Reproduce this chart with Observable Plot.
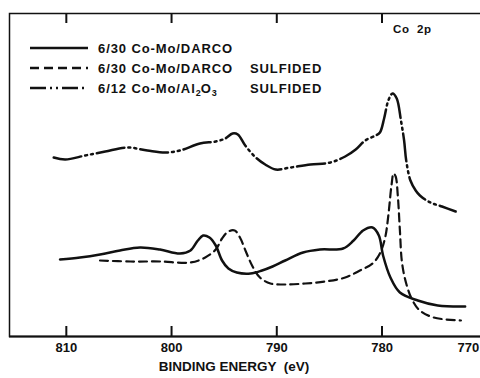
<!DOCTYPE html>
<html><head><meta charset="utf-8">
<script src="https://cdn.jsdelivr.net/npm/d3@7"></script>
<script src="https://cdn.jsdelivr.net/npm/@observablehq/plot@0.6"></script>
<style>
html,body{margin:0;padding:0;overflow:hidden;background:#fff;}
#wrap{position:relative;width:480px;height:378px;overflow:hidden;}
#chart svg{overflow:hidden;max-width:none !important;}
.lg{position:absolute;left:30px;top:38px;font:bold 13px "Liberation Sans",Arial,sans-serif;letter-spacing:0.9px;color:#111;}
.row{height:20px;display:flex;align-items:center;white-space:pre;}
.row svg{margin-right:10px;flex:none;}
.a{display:inline-block;width:152px;}
.sb{position:relative;top:3px;font-size:9px;letter-spacing:0;}
.co{position:absolute;left:393px;top:23px;font:bold 11.5px "Liberation Sans",Arial,sans-serif;letter-spacing:0.6px;white-space:pre;color:#111;}
</style></head>
<body><div id="wrap"><div id="chart"></div>
<div class="lg">
<div class="row"><svg width="58" height="6"><line x1="0" y1="3" x2="58" y2="3" stroke="#111" stroke-width="2.5"/></svg><span class="a">6/30 Co-Mo/DARCO</span></div>
<div class="row"><svg width="58" height="6"><line x1="0" y1="3" x2="58" y2="3" stroke="#111" stroke-width="2.5" stroke-dasharray="9,5"/></svg><span class="a">6/30 Co-Mo/DARCO</span>SULFIDED</div>
<div class="row"><svg width="58" height="6"><line x1="0" y1="3" x2="58" y2="3" stroke="#111" stroke-width="2.5" stroke-dasharray="16,4,2,4,2,4"/></svg><span class="a">6/12 Co-Mo/Al<span class="sb">2</span>O<span class="sb">3</span></span>SULFIDED</div>
</div>
<div class="co">Co  2p</div>
</div>
<script>
// Binding energy (eV) and intensity (arbitrary units)
const solidEnergy = [810.6,808.7,806.8,804.9,803.0,801.1,799.2,798.2,797.5,797.0,796.4,795.8,795.2,794.6,793.8,792.5,791.4,790.4,789.2,787.5,785.9,783.7,782.7,781.8,780.9,780.3,779.9,779.2,778.3,776.6,774.7,772.1];
const solidIntensity = [77,79,82,86,89,87,83,86,96,101,99,91,76,68,64,63,66,70,76,84,87,88,96,106,109,101,81,59,44,36,31,30];

const sulfEnergy = [806.8,803.9,801.1,798.2,796.8,795.8,795.2,794.6,794.0,793.5,792.9,792.3,791.6,790.6,789.2,787.3,785.4,783.5,782.1,780.9,780.2,779.7,779.4,779.1,778.9,778.7,778.5,778.3,778.1,777.7,777.1,776.4,775.1,772.5];
const sulfIntensity = [76,75,75,74,79,87,98,105,106,99,84,70,59,53,52,53,55,59,66,73,83,99,121,151,163,160,141,106,74,53,36,26,19,16];

const alEnergy = [811.2,810.1,808.2,806.3,804.2,802.3,800.6,799.2,797.3,795.8,794.9,794.2,793.7,793.0,792.0,791.1,790.1,788.7,786.8,784.9,783.5,782.5,781.6,780.6,780.2,779.8,779.4,779.0,778.6,778.2,777.9,777.7,777.3,776.8,776.4,775.4,774.3,773.0];
const alIntensity = [179,177,181,185,189,186,184,186,193,195,198,203,202,191,179,172,167,169,172,174,180,187,196,201,204,218,236,243,238,216,196,176,156,146,141,134,130,125];

const tickValues = [810, 800, 790, 780, 770];
const xLabel = "BINDING ENERGY  (eV)";

const toRows = (e, v) => e.map((d, i) => ({e: d, v: v[i]}));
const solid = toRows(solidEnergy, solidIntensity);
const sulf = toRows(sulfEnergy, sulfIntensity);
const al = toRows(alEnergy, alIntensity);

const font = '"Liberation Sans", Arial, sans-serif';
const plot = Plot.plot({
  width: 500, height: 378,
  marginLeft: 9, marginRight: 8, marginTop: 13, marginBottom: 42,
  style: {fontFamily: font, fontWeight: "bold", fontSize: "13px", color: "#111", background: "white", overflow: "hidden", maxWidth: "none"},
  x: {domain: [815.4, 769.5]},
  y: {domain: [0, 323], axis: null},
  marks: [
    Plot.frame({stroke: "#111", strokeWidth: 1.5}),
    Plot.ruleY([0], {stroke: "#111", strokeWidth: 2.2}),
    // inward tick marks (bottom and top), drawn with the y scale
    Plot.ruleX(tickValues, {x: d => d, y1: 0, y2: 10, stroke: "#111", strokeWidth: 2}),
    Plot.ruleX(tickValues, {x: d => d, y1: 313, y2: 323, stroke: "#111", strokeWidth: 2}),
    // tick labels
    Plot.axisX({anchor: "bottom", ticks: tickValues.slice(0, 4), tickSize: 0, tickPadding: 6, fontSize: 13, fontWeight: "bold", label: null}),
    Plot.axisX({anchor: "bottom", ticks: tickValues.slice(4), tickSize: 0, tickPadding: 6, textAnchor: "end", dx: -8, fontSize: 13, fontWeight: "bold", label: null}),
    Plot.text([xLabel], {frameAnchor: "bottom", dx: -17, dy: 34, text: d => d, fontSize: 13.5, fontWeight: "bold", fill: "#111", style: {letterSpacing: "0.5px"}}),
    Plot.line(solid, {x: "e", y: "v", stroke: "#111", strokeWidth: 2.5, curve: "catmull-rom"}),
    Plot.line(sulf, {x: "e", y: "v", stroke: "#111", strokeWidth: 2.2, strokeDasharray: "8,5", curve: "catmull-rom"}),
    Plot.line(al, {x: "e", y: "v", stroke: "#111", strokeWidth: 2.5, strokeDasharray: "28,4,2,4,2,4", curve: "catmull-rom"})
  ]
});
document.getElementById("chart").appendChild(plot);
</script>
</body></html>
